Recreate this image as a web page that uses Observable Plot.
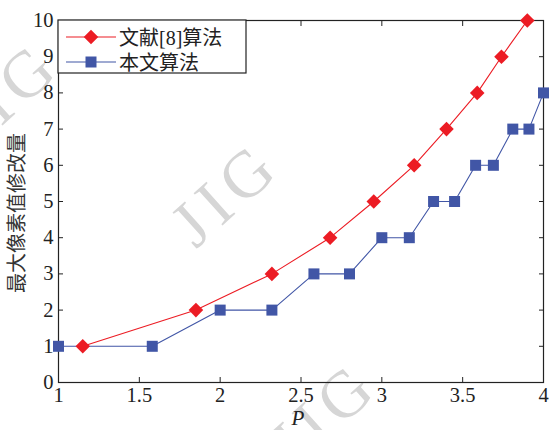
<!DOCTYPE html>
<html>
<head>
<meta charset="utf-8">
<script src="https://cdn.jsdelivr.net/npm/d3@7"></script>
<script src="https://cdn.jsdelivr.net/npm/@observablehq/plot@0.6"></script>
<style>
  body { margin: 0; background: white; }
  #chart svg { display: block; }
</style>
</head>
<body>
<div id="chart"></div>
<script>
// ---- data ----
const seriesNames = ["文献[8]算法", "本文算法"];
const redP = [1.15, 1.85, 2.32, 2.68, 2.95, 3.2, 3.4, 3.59, 3.74, 3.9];
const redV = [1, 2, 3, 4, 5, 6, 7, 8, 9, 10];
const blueP = [1, 1.58, 2.0, 2.32, 2.58, 2.8, 3.0, 3.17, 3.32, 3.45, 3.58, 3.69, 3.81, 3.91, 4.0];
const blueV = [1, 1, 2, 2, 3, 3, 4, 4, 5, 5, 6, 6, 7, 7, 8];
const xTicks = [1, 1.5, 2, 2.5, 3, 3.5, 4];
const yTicks = [0, 1, 2, 3, 4, 5, 6, 7, 8, 9, 10];
const xLabel = "P";
const yLabel = "最大像素值修改量";
const watermark = "JIG";

const red = "#ec1c24";
const blue = "#4156a6";
const ink = "#222";
const serif = "'Liberation Serif', 'Times New Roman', serif";
const cjk = "'Liberation Serif', 'Noto Sans CJK SC', serif";

const redData = redP.map((p, i) => ({p, v: redV[i]}));
const blueData = blueP.map((p, i) => ({p, v: blueV[i]}));

const diamondArea = 135;
const squareArea = 121;

const chart = Plot.plot({
  width: 550,
  height: 430,
  marginLeft: 58,
  marginRight: 7,
  marginTop: 20,
  marginBottom: 48,
  x: {domain: [1, 4]},
  y: {domain: [0, 10]},
  style: {fontFamily: serif, fontSize: "20px", color: ink, background: "white"},
  marks: [
    Plot.frame({stroke: ink, strokeWidth: 1.2}),
    Plot.axisX(xTicks, {anchor: "bottom", tickSize: 0, tickPadding: 5, tickFormat: d => String(d), label: null, fontSize: 20.5}),
    Plot.axisX(xTicks, {anchor: "bottom", tickSize: -5, tickFormat: () => "", label: null, stroke: ink}),
    Plot.axisX(xTicks, {anchor: "top", tickSize: -5, tickFormat: () => "", label: null, stroke: ink}),
    Plot.axisY(yTicks, {anchor: "left", tickSize: 0, tickPadding: 5, tickFormat: d => String(d), label: null, fontSize: 20.5}),
    Plot.axisY(yTicks, {anchor: "left", tickSize: -5, tickFormat: () => "", label: null, stroke: ink}),
    Plot.axisY(yTicks, {anchor: "right", tickSize: -5, tickFormat: () => "", label: null, stroke: ink}),
    Plot.line(blueData, {x: "p", y: "v", stroke: blue, strokeWidth: 1.1}),
    Plot.dot(blueData, {x: "p", y: "v", symbol: "square", r: Math.sqrt(squareArea / Math.PI), fill: blue, stroke: "none"}),
    Plot.line(redData, {x: "p", y: "v", stroke: red, strokeWidth: 1.1}),
    Plot.dot(redData, {x: "p", y: "v", symbol: "diamond2", r: Math.sqrt(diamondArea / Math.PI), fill: red, stroke: "none"})
  ]
});

document.getElementById("chart").appendChild(chart);

const svg = d3.select(chart);

// watermarks (behind everything)
const wm = svg.insert("g", ":first-child").attr("pointer-events", "none");
[[5, 93], [225, 193], [323, 413]].forEach(([cx, cy]) => {
  wm.append("text")
    .attr("transform", `translate(${cx},${cy}) rotate(-42)`)
    .attr("text-anchor", "middle")
    .attr("dominant-baseline", "central")
    .attr("font-family", serif)
    .attr("font-size", 66)
    .attr("letter-spacing", 8)
    .attr("fill", "#d6d6d6")
    .text(watermark);
});

// axis titles
svg.append("text")
  .attr("transform", "translate(17,213) rotate(-90)")
  .attr("text-anchor", "middle")
  .attr("dominant-baseline", "central")
  .attr("font-family", cjk)
  .attr("font-size", 20)
  .attr("fill", "#333")
  .text(yLabel);

svg.append("text")
  .attr("x", 298)
  .attr("y", 418)
  .attr("text-anchor", "middle")
  .attr("dominant-baseline", "central")
  .attr("font-family", serif)
  .attr("font-style", "italic")
  .attr("font-size", 21)
  .attr("fill", ink)
  .text(xLabel);

// legend
const lg = svg.append("g");
lg.append("rect").attr("x", 58).attr("y", 20).attr("width", 188).attr("height", 53)
  .attr("fill", "white").attr("stroke", ink).attr("stroke-width", 1.2);
const entries = [
  {name: seriesNames[0], color: red, sym: d3.symbolDiamond2, area: diamondArea, y: 37},
  {name: seriesNames[1], color: blue, sym: d3.symbolSquare, area: squareArea, y: 62}
];
entries.forEach(e => {
  lg.append("line").attr("x1", 66).attr("x2", 116).attr("y1", e.y).attr("y2", e.y)
    .attr("stroke", e.color).attr("stroke-width", 1.1);
  lg.append("path").attr("transform", `translate(91,${e.y})`)
    .attr("d", d3.symbol(e.sym, e.area)()).attr("fill", e.color);
  lg.append("text").attr("x", 119).attr("y", e.y + 1)
    .attr("text-anchor", "start")
    .attr("dominant-baseline", "central")
    .attr("font-family", cjk).attr("font-size", 20).attr("fill", ink)
    .text(e.name);
});
</script>
</body>
</html>
